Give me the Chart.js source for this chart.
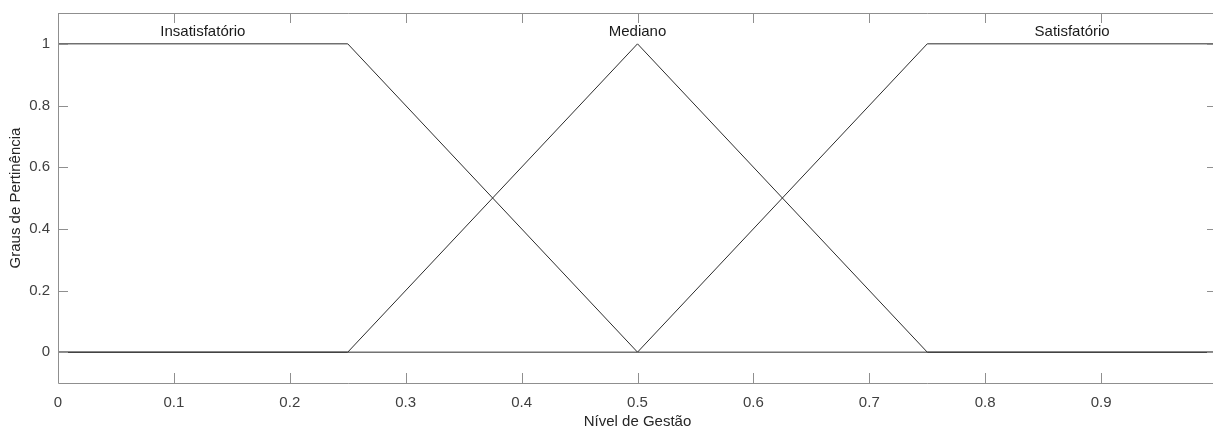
<!DOCTYPE html>
<html>
<head>
<meta charset="utf-8">
<script src="https://cdn.jsdelivr.net/npm/chart.js@4"></script>
<style>
  html, body { margin: 0; padding: 0; background: #fff; overflow: hidden; }
  .wrap { width: 1245px; height: 427px; overflow: hidden; }
</style>
</head>
<body>
<div class="wrap"><canvas id="myChart" width="1245" height="431"></canvas></div>
<script>
// membership functions on "Nível de Gestão"
var mfNames = ['Insatisfatório', 'Mediano', 'Satisfatório'];
var mfLabelX = [0.125, 0.5, 0.875];
var insatisfatorioX = [0, 0.25, 0.5, 1];
var insatisfatorioY = [1, 1, 0, 0];
var medianoX = [0, 0.25, 0.5, 0.75, 1];
var medianoY = [0, 0, 1, 0, 0];
var satisfatorioX = [0, 0.5, 0.75, 1];
var satisfatorioY = [0, 0, 1, 1];
var xTicks = [0, 0.1, 0.2, 0.3, 0.4, 0.5, 0.6, 0.7, 0.8, 0.9, 1];
var yTicks = [0, 0.2, 0.4, 0.6, 0.8, 1];

function toPoints(xs, ys) {
  return xs.map(function (x, i) { return { x: x, y: ys[i] }; });
}

var lineColor = '#2b2b2b';
var axisColor = '#8f8f8f';
var font = { family: "'Liberation Sans', Arial, sans-serif", size: 15 };

// box frame with inward ticks on all four sides, like the original
var boxPlugin = {
  id: 'box',
  afterDraw: function (chart) {
    var ctx = chart.ctx, a = chart.chartArea;
    var xs = chart.scales.x, ys = chart.scales.y;
    ctx.save();
    ctx.strokeStyle = axisColor;
    ctx.lineWidth = 1;
    ctx.beginPath();
    ctx.rect(a.left + 0.5, a.top + 0.5, a.right - a.left, a.bottom - a.top);
    xTicks.forEach(function (v) {
      var px = Math.round(xs.getPixelForValue(v)) + 0.5;
      ctx.moveTo(px, a.bottom); ctx.lineTo(px, a.bottom - 10);
      ctx.moveTo(px, a.top); ctx.lineTo(px, a.top + 10);
    });
    yTicks.forEach(function (v) {
      var py = Math.round(ys.getPixelForValue(v)) + 0.5;
      ctx.moveTo(a.left, py); ctx.lineTo(a.left + 10, py);
      ctx.moveTo(a.right, py); ctx.lineTo(a.right - 10, py);
    });
    ctx.stroke();
    ctx.restore();
  },
  afterDatasetsDraw: function (chart) {
    var ctx = chart.ctx;
    var xs = chart.scales.x, ys = chart.scales.y;
    ctx.save();
    ctx.fillStyle = '#1a1a1a';
    ctx.font = '15px ' + font.family;
    ctx.textAlign = 'center';
    ctx.textBaseline = 'alphabetic';
    mfNames.forEach(function (name, i) {
      ctx.fillText(name, xs.getPixelForValue(mfLabelX[i]), ys.getPixelForValue(1) - 8);
    });
    ctx.restore();
  }
};

function ds(xs, ys) {
  return {
    data: toPoints(xs, ys),
    showLine: true,
    borderColor: lineColor,
    borderWidth: 1,
    pointRadius: 0,
    fill: false,
    tension: 0
  };
}

new Chart(document.getElementById('myChart'), {
  type: 'scatter',
  data: {
    datasets: [
      ds(insatisfatorioX, insatisfatorioY),
      ds(medianoX, medianoY),
      ds(satisfatorioX, satisfatorioY)
    ]
  },
  options: {
    responsive: false,
    animation: false,
    layout: { padding: { top: 13, right: 28, left: 0, bottom: 0 } },
    plugins: { legend: { display: false }, tooltip: { enabled: false } },
    scales: {
      x: {
        type: 'linear',
        min: 0,
        max: 1,
        afterBuildTicks: function (scale) {
          scale.ticks = xTicks.map(function (v) { return { value: v }; });
        },
        afterFit: function (scale) {
          scale.height = 48;
          scale.paddingLeft = 0;
          scale.paddingRight = 0;
        },
        grid: { display: false, drawTicks: false },
        border: { display: false },
        ticks: {
          color: '#404040',
          font: font,
          padding: 11,
          maxRotation: 0,
          autoSkip: false,
          callback: function (v) { return String(Math.round(v * 10) / 10); }
        },
        title: {
          display: true,
          text: 'Nível de Gestão',
          color: '#262626',
          font: font,
          padding: { top: 0, bottom: 0 }
        }
      },
      y: {
        min: -0.1,
        max: 1.1,
        afterBuildTicks: function (scale) {
          scale.ticks = yTicks.map(function (v) { return { value: v }; });
        },
        afterFit: function (scale) {
          scale.width = 58;
          scale.paddingTop = 0;
          scale.paddingBottom = 0;
        },
        grid: { display: false, drawTicks: false },
        border: { display: false },
        ticks: {
          color: '#404040',
          font: font,
          padding: 8,
          autoSkip: false,
          callback: function (v) { return String(Math.round(v * 10) / 10); }
        },
        title: {
          display: true,
          text: 'Graus de Pertinência',
          color: '#262626',
          font: font,
          padding: { top: 7, bottom: 0 }
        }
      }
    }
  },
  plugins: [boxPlugin]
});
</script>
</body>
</html>
